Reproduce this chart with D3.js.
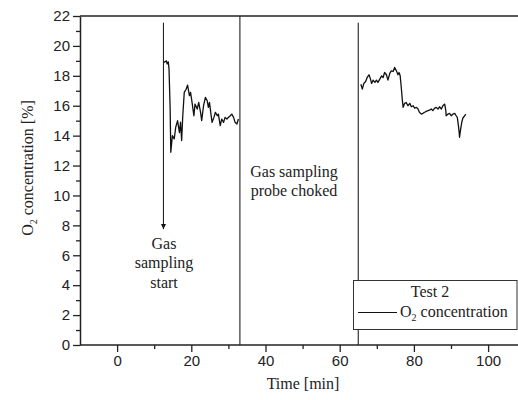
<!DOCTYPE html>
<html><head><meta charset="utf-8">
<script src="https://cdn.jsdelivr.net/npm/d3@7/dist/d3.min.js"></script>
<style>body{margin:0;background:#fff}svg{display:block}
.serif{font-family:"Liberation Serif","DejaVu Serif",serif}
.sans{font-family:"Liberation Sans",Arial,sans-serif}</style>
</head><body>
<script>
// Series 1 (before probe choked)
const time1 = [12.65,13.3,13.5,13.8,14.0,14.3,14.47,14.9,15.4,15.8,16.3,16.8,17.1,17.4,17.7,18.1,18.6,19.0,19.5,19.8,20.2,20.7,21.0,21.6,22.0,22.5,22.8,23.3,23.8,24.3,24.6,24.9,25.3,25.6,26.1,26.5,27.0,27.3,27.8,28.2,28.7,29.1,29.6,30.0,30.5,30.9,31.4,31.8,32.3,32.7];
const o2_1 = [18.9,19.0,18.8,18.93,18.44,15.78,12.89,14.0,13.78,14.56,15.0,14.2,14.9,13.67,15.33,16.89,17.1,17.38,16.67,16.89,16.22,15.33,16.11,15.78,16.22,15.56,15.0,16.0,16.56,16.33,15.89,16.22,15.44,14.89,15.22,15.56,15.33,15.44,14.67,15.11,14.89,15.22,15.11,15.22,15.33,15.44,15.22,14.89,14.78,15.11];
// Series 2 (after probe cleared)
const time2 = [65.7,66.1,66.5,67.0,67.4,67.9,68.3,68.6,69.0,69.5,69.9,70.3,70.8,71.3,71.7,72.1,72.6,73.0,73.5,73.9,74.4,74.8,75.3,75.7,76.0,76.3,76.6,76.9,77.1,77.5,77.9,78.4,78.9,79.3,79.8,80.2,80.7,81.1,81.5,82.0,82.4,82.9,83.3,83.8,84.2,84.7,85.1,85.6,86.0,86.5,86.9,87.4,87.8,88.3,88.6,88.7,89.2,89.6,90.1,90.5,91.0,91.4,91.7,92.0,92.2,92.3,92.6,92.9,93.2,93.7,94.0];
const o2_2 = [17.44,17.11,17.49,17.62,17.89,18.07,17.78,17.49,17.71,17.56,17.71,17.56,17.78,18.0,17.89,18.22,18.07,17.71,18.16,18.33,18.29,18.56,18.33,18.07,18.22,18.0,17.22,16.33,15.89,16.16,16.22,16.0,16.16,15.93,16.0,15.84,15.89,15.78,15.56,15.44,15.49,15.56,15.62,15.67,15.71,15.78,15.67,15.84,15.89,15.78,15.93,15.78,16.0,16.11,15.67,15.33,15.44,15.49,15.33,15.44,15.49,15.33,15.22,14.67,14.22,13.89,14.44,14.89,15.18,15.33,15.44];
// Event markers: [time, from, to]
const eventTimes = [12.5, 33.1, 65.0];
const eventFrom = [21.55, 22, 21.55];
const eventTo = [7.75, 0, 0];
const xTicks = [0,20,40,60,80,100];
const xMinor = [10,30,50,70,90];
const yTicks = [0,2,4,6,8,10,12,14,16,18,20,22];
const yMinor = [1,3,5,7,9,11,13,15,17,19,21];

const W = 518, H = 400;
const svg = d3.select("body").append("svg").attr("width", W).attr("height", H);
const x = d3.scaleLinear().domain([-10, 110]).range([80, 80 + 120*3.71]);
const y = d3.scaleLinear().domain([0, 22]).range([345, 16]);

svg.append("defs").append("marker").attr("id","arr").attr("viewBox","0 0 10 10")
  .attr("refX",10).attr("refY",5).attr("markerWidth",5).attr("markerHeight",7)
  .attr("markerUnits","userSpaceOnUse").attr("orient","auto")
  .append("path").attr("d","M0,0 L10,5 L0,10 z").attr("fill","#111");

// axes
const xAxis = svg.append("g").attr("transform","translate(0,345)")
  .call(d3.axisBottom(x).tickValues(xTicks).tickSize(7).tickPadding(3).tickSizeOuter(0));
const xMin = svg.append("g").attr("transform","translate(0,345)")
  .call(d3.axisBottom(x).tickValues(xMinor).tickSize(4).tickFormat("").tickSizeOuter(0));
const yAxis = svg.append("g").attr("transform","translate(80,0)")
  .call(d3.axisLeft(y).tickValues(yTicks).tickSize(7).tickPadding(3).tickSizeOuter(0));
const yMin = svg.append("g").attr("transform","translate(80,0)")
  .call(d3.axisLeft(y).tickValues(yMinor).tickSize(4).tickFormat("").tickSizeOuter(0));
[xAxis,xMin,yAxis,yMin].forEach(g=>{
  g.attr("font-family",null).attr("font-size",null);
  g.select(".domain").attr("stroke","#222").attr("stroke-width",1.5);
  g.selectAll(".tick line").attr("stroke","#222").attr("stroke-width",1.3);
  g.selectAll("text").attr("class","sans").style("font-size","15px").attr("fill","#222");
});
xMin.select(".domain").remove(); yMin.select(".domain").remove();
xAxis.select(".domain").attr("d", `M80,0H${W}`);
// top border
svg.append("line").attr("x1",80).attr("x2",W).attr("y1",y(22)).attr("y2",y(22))
  .attr("stroke","#222").attr("stroke-width",1.5);

// event lines
eventTimes.forEach((t,i)=>{
  const l = svg.append("line").attr("x1",x(t)).attr("x2",x(t))
    .attr("y1",y(eventFrom[i])).attr("y2",y(eventTo[i]))
    .attr("stroke","#222").attr("stroke-width",1.1);
  if(i===0) l.attr("marker-end","url(#arr)");
});

// data lines
const line = d3.line().x(d=>x(d[0])).y(d=>y(d[1]));
[[time1,o2_1],[time2,o2_2]].forEach(([t,v])=>{
  svg.append("path").datum(t.map((d,i)=>[d,v[i]])).attr("d",line)
    .attr("fill","none").attr("stroke","#111").attr("stroke-width",1.3).attr("stroke-linejoin","round");
});

// annotations
const ann = svg.append("g").attr("class","serif").style("font-size","16px").attr("fill","#222");
ann.append("text").attr("x",164).attr("y",249).attr("text-anchor","middle").text("Gas");
ann.append("text").attr("x",164).attr("y",268).attr("text-anchor","middle").text("sampling");
ann.append("text").attr("x",164).attr("y",288).attr("text-anchor","middle").text("start");
ann.append("text").attr("x",294).attr("y",177).attr("text-anchor","middle").text("Gas sampling");
ann.append("text").attr("x",294).attr("y",196).attr("text-anchor","middle").text("probe choked");

// axis titles
svg.append("text").attr("x",303).attr("y",389).attr("text-anchor","middle")
  .attr("class","serif").style("font-size","16px").attr("fill","#222").text("Time [min]");
const yt = svg.append("text").attr("transform","translate(33,168) rotate(-90)")
  .attr("text-anchor","middle").attr("class","serif").style("font-size","16px").attr("fill","#222");
yt.append("tspan").text("O");
yt.append("tspan").style("font-size","10px").attr("dy",4).text("2");
yt.append("tspan").attr("dy",-4).text(" concentration [%]");

// legend
const lg = svg.append("g");
lg.append("rect").attr("x",353.5).attr("y",280.5).attr("width",163.5).attr("height",49)
  .attr("fill","#fff").attr("stroke","#333").attr("stroke-width",1);
lg.append("text").attr("x",430).attr("y",297).attr("text-anchor","middle")
  .attr("class","serif").style("font-size","16px").attr("fill","#222").text("Test 2");
lg.append("line").attr("x1",358).attr("x2",397).attr("y1",312.5).attr("y2",312.5)
  .attr("stroke","#111").attr("stroke-width",1.2);
const lt = lg.append("text").attr("x",400).attr("y",317)
  .attr("class","serif").style("font-size","16px").attr("fill","#222");
lt.append("tspan").text("O");
lt.append("tspan").style("font-size","10px").attr("dy",4).text("2");
lt.append("tspan").attr("dy",-4).text(" concentration");
</script>
</body></html>
